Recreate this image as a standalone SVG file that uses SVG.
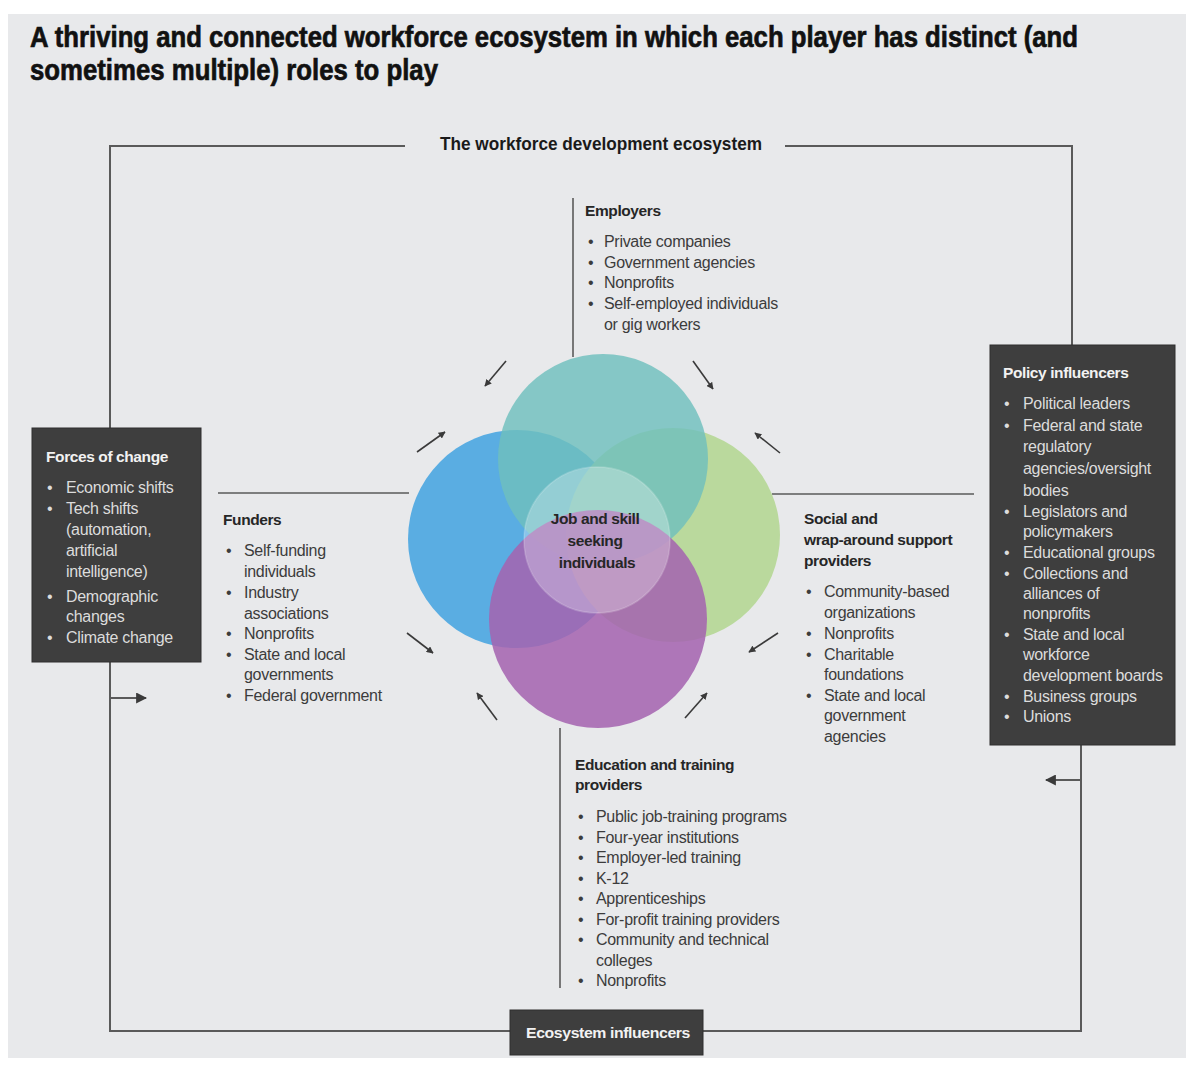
<svg xmlns="http://www.w3.org/2000/svg" width="1186" height="1066" viewBox="0 0 1186 1066">
  <defs>
    <style>
      .title { font-family: "Liberation Sans", Arial, sans-serif; font-weight: 900; font-size: 30px; fill: #111; stroke: #111; stroke-width: 0.7px; }
      .sub { font-family: "Liberation Sans", Arial, sans-serif; font-weight: bold; font-size: 19px; fill: #1a1a1a; }
      .h { font-family: "Liberation Sans", Arial, sans-serif; font-weight: bold; font-size: 15.5px; fill: #262626; letter-spacing: -0.4px; }
      .t { font-family: "Liberation Sans", Arial, sans-serif; font-size: 16px; fill: #3c3c3c; letter-spacing: -0.3px; }
      .hw { font-family: "Liberation Sans", Arial, sans-serif; font-weight: bold; font-size: 15.5px; fill: #f2f2f2; letter-spacing: -0.4px; }
      .tw { font-family: "Liberation Sans", Arial, sans-serif; font-size: 16px; fill: #dcdcdc; letter-spacing: -0.3px; }
      .frame { fill: none; stroke: #5a5a5a; stroke-width: 2; }
      .rule { fill: none; stroke: #5a5a5a; stroke-width: 1.6; }
      .flow { fill: none; stroke: #3a3a3a; stroke-width: 1.6; marker-end: url(#head); }
      .box { fill: #3e3e3e; stroke: #2e2e2e; stroke-width: 1; }
    </style>
    <marker id="head" viewBox="0 0 10 10" refX="9" refY="5" markerWidth="7" markerHeight="7" markerUnits="userSpaceOnUse" orient="auto">
      <path d="M0,0 L10,5 L0,10 Z" fill="#3a3a3a"/>
    </marker>
    <marker id="bighead" viewBox="0 0 10 10" refX="9" refY="5" markerWidth="11" markerHeight="11" markerUnits="userSpaceOnUse" orient="auto">
      <path d="M0,0 L10,5 L0,10 Z" fill="#3a3a3a"/>
    </marker>
  </defs>

  <!-- page -->
  <rect x="0" y="0" width="1186" height="1066" fill="#ffffff"/>
  <rect x="8" y="14" width="1178" height="1044" fill="#e8e9eb"/>

  <!-- heading, set in a horizontally condensed heavy face -->
  <g id="title">
    <text class="title" transform="translate(30,47) scale(0.8,1)" x="0" y="0" textLength="1310" lengthAdjust="spacingAndGlyphs">A thriving and connected workforce ecosystem in which each player has distinct (and</text>
    <text class="title" transform="translate(30,80) scale(0.8,1)" x="0" y="0" textLength="510" lengthAdjust="spacingAndGlyphs">sometimes multiple) roles to play</text>
  </g>

  <!-- ecosystem frame and connectors -->
  <g id="connectors">
    <polyline class="frame" points="405,146 110,146 110,1031 1081,1031 1081,745"/>
    <polyline class="frame" points="785,146 1072,146 1072,345"/>
    <line class="frame" x1="110" y1="698" x2="146" y2="698" marker-end="url(#bighead)"/>
    <line class="frame" x1="1081" y1="780" x2="1046" y2="780" marker-end="url(#bighead)"/>

    <line class="rule" x1="573" y1="198" x2="573" y2="357"/>
    <line class="rule" x1="218" y1="493" x2="409" y2="493"/>
    <line class="rule" x1="772" y1="494" x2="974" y2="494"/>
    <line class="rule" x1="560" y1="728" x2="560" y2="988"/>

    <line class="flow" x1="506" y1="361" x2="485" y2="386"/>
    <line class="flow" x1="693" y1="361" x2="713" y2="389"/>
    <line class="flow" x1="417" y1="452" x2="445" y2="432"/>
    <line class="flow" x1="780" y1="453" x2="755" y2="433"/>
    <line class="flow" x1="407" y1="633" x2="433" y2="653"/>
    <line class="flow" x1="778" y1="633" x2="749" y2="652"/>
    <line class="flow" x1="497" y1="720" x2="477" y2="693"/>
    <line class="flow" x1="685" y1="718" x2="707" y2="693"/>
  </g>

  <g id="ecosystem-label">
    <text class="sub" x="440" y="150" textLength="322" lengthAdjust="spacingAndGlyphs">The workforce development ecosystem</text>
  </g>

  <!-- overlapping circles -->
  <g id="circles">
    <circle cx="517" cy="539" r="109" fill="#5aade2"/>
    <circle cx="673" cy="535" r="107" fill="#bad99d"/>
    <circle cx="603" cy="459" r="105" fill="#6fc0bd" fill-opacity="0.82"/>
    <circle cx="598" cy="619" r="109" fill="#a463b0" fill-opacity="0.86"/>
  </g>

  <g id="individuals">
    <circle cx="597" cy="540" r="73" fill="#ffffff" fill-opacity="0.28" stroke="#ffffff" stroke-opacity="0.2" stroke-width="1.5"/>
    <text class="h" text-anchor="middle" font-size="15px">
      <tspan x="597" y="524">Job and skill</tspan>
      <tspan x="597" y="546">seeking</tspan>
      <tspan x="597" y="568">individuals</tspan>
    </text>
  </g>

  <g id="employers">
    <text class="h" x="585" y="216">Employers</text>
    <text class="t">
      <tspan x="588" y="247">•</tspan><tspan x="604" y="247">Private companies</tspan>
      <tspan x="588" y="268">•</tspan><tspan x="604" y="268">Government agencies</tspan>
      <tspan x="588" y="288">•</tspan><tspan x="604" y="288">Nonprofits</tspan>
      <tspan x="588" y="309">•</tspan><tspan x="604" y="309">Self-employed individuals</tspan>
      <tspan x="604" y="330">or gig workers</tspan>
    </text>
  </g>

  <g id="funders">
    <text class="h" x="223" y="525">Funders</text>
    <text class="t">
      <tspan x="226" y="556">•</tspan><tspan x="244" y="556">Self-funding</tspan>
      <tspan x="244" y="577">individuals</tspan>
      <tspan x="226" y="598">•</tspan><tspan x="244" y="598">Industry</tspan>
      <tspan x="244" y="619">associations</tspan>
      <tspan x="226" y="639">•</tspan><tspan x="244" y="639">Nonprofits</tspan>
      <tspan x="226" y="660">•</tspan><tspan x="244" y="660">State and local</tspan>
      <tspan x="244" y="680">governments</tspan>
      <tspan x="226" y="701">•</tspan><tspan x="244" y="701">Federal government</tspan>
    </text>
  </g>

  <g id="support-providers">
    <text class="h">
      <tspan x="804" y="524">Social and</tspan>
      <tspan x="804" y="545">wrap-around support</tspan>
      <tspan x="804" y="566">providers</tspan>
    </text>
    <text class="t">
      <tspan x="806" y="597">•</tspan><tspan x="824" y="597">Community-based</tspan>
      <tspan x="824" y="618">organizations</tspan>
      <tspan x="806" y="639">•</tspan><tspan x="824" y="639">Nonprofits</tspan>
      <tspan x="806" y="660">•</tspan><tspan x="824" y="660">Charitable</tspan>
      <tspan x="824" y="680">foundations</tspan>
      <tspan x="806" y="701">•</tspan><tspan x="824" y="701">State and local</tspan>
      <tspan x="824" y="721">government</tspan>
      <tspan x="824" y="742">agencies</tspan>
    </text>
  </g>

  <g id="education-providers">
    <text class="h">
      <tspan x="575" y="770">Education and training</tspan>
      <tspan x="575" y="790">providers</tspan>
    </text>
    <text class="t">
      <tspan x="578" y="822">•</tspan><tspan x="596" y="822">Public job-training programs</tspan>
      <tspan x="578" y="843">•</tspan><tspan x="596" y="843">Four-year institutions</tspan>
      <tspan x="578" y="863">•</tspan><tspan x="596" y="863">Employer-led training</tspan>
      <tspan x="578" y="884">•</tspan><tspan x="596" y="884">K-12</tspan>
      <tspan x="578" y="904">•</tspan><tspan x="596" y="904">Apprenticeships</tspan>
      <tspan x="578" y="925">•</tspan><tspan x="596" y="925">For-profit training providers</tspan>
      <tspan x="578" y="945">•</tspan><tspan x="596" y="945">Community and technical</tspan>
      <tspan x="596" y="966">colleges</tspan>
      <tspan x="578" y="986">•</tspan><tspan x="596" y="986">Nonprofits</tspan>
    </text>
  </g>

  <g id="forces-of-change">
    <rect class="box" x="32" y="428" width="169" height="234"/>
    <text class="hw" x="46" y="462">Forces of change</text>
    <text class="tw">
      <tspan x="47" y="493">•</tspan><tspan x="66" y="493">Economic shifts</tspan>
      <tspan x="47" y="514">•</tspan><tspan x="66" y="514">Tech shifts</tspan>
      <tspan x="66" y="535">(automation,</tspan>
      <tspan x="66" y="556">artificial</tspan>
      <tspan x="66" y="577">intelligence)</tspan>
      <tspan x="47" y="602">•</tspan><tspan x="66" y="602">Demographic</tspan>
      <tspan x="66" y="622">changes</tspan>
      <tspan x="47" y="643">•</tspan><tspan x="66" y="643">Climate change</tspan>
    </text>
  </g>

  <g id="policy-influencers">
    <rect class="box" x="990" y="345" width="185" height="400"/>
    <text class="hw" x="1003" y="378">Policy influencers</text>
    <text class="tw">
      <tspan x="1004" y="409">•</tspan><tspan x="1023" y="409">Political leaders</tspan>
      <tspan x="1004" y="431">•</tspan><tspan x="1023" y="431">Federal and state</tspan>
      <tspan x="1023" y="452">regulatory</tspan>
      <tspan x="1023" y="474">agencies/oversight</tspan>
      <tspan x="1023" y="496">bodies</tspan>
      <tspan x="1004" y="517">•</tspan><tspan x="1023" y="517">Legislators and</tspan>
      <tspan x="1023" y="537">policymakers</tspan>
      <tspan x="1004" y="558">•</tspan><tspan x="1023" y="558">Educational groups</tspan>
      <tspan x="1004" y="579">•</tspan><tspan x="1023" y="579">Collections and</tspan>
      <tspan x="1023" y="599">alliances of</tspan>
      <tspan x="1023" y="619">nonprofits</tspan>
      <tspan x="1004" y="640">•</tspan><tspan x="1023" y="640">State and local</tspan>
      <tspan x="1023" y="660">workforce</tspan>
      <tspan x="1023" y="681">development boards</tspan>
      <tspan x="1004" y="702">•</tspan><tspan x="1023" y="702">Business groups</tspan>
      <tspan x="1004" y="722">•</tspan><tspan x="1023" y="722">Unions</tspan>
    </text>
  </g>

  <g id="ecosystem-influencers">
    <rect class="box" x="510" y="1010" width="193" height="45"/>
    <text class="hw" x="526" y="1038" font-size="17px" textLength="164" lengthAdjust="spacingAndGlyphs">Ecosystem influencers</text>
  </g>
</svg>
